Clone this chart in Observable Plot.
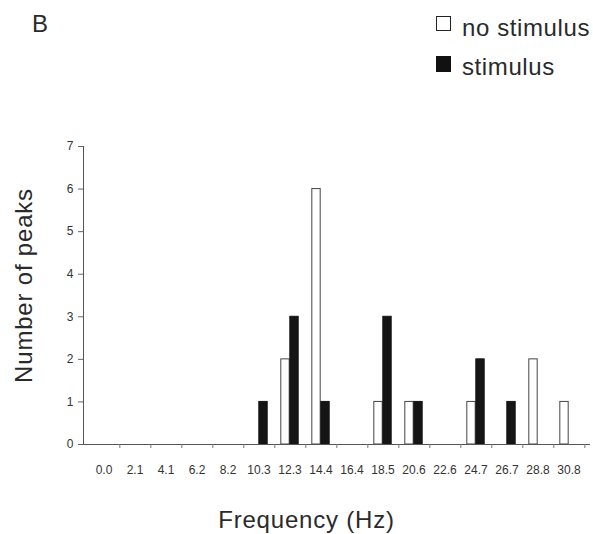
<!DOCTYPE html>
<html>
<head>
<meta charset="utf-8">
<script src="https://cdn.jsdelivr.net/npm/d3@7"></script>
<script src="https://cdn.jsdelivr.net/npm/@observablehq/plot@0.6"></script>
<style>
  html, body { margin: 0; padding: 0; background: #fff; }
  body { width: 593px; height: 534px; overflow: hidden; font-family: "Liberation Sans", Arial, sans-serif; color: #222; }
  #header { position: relative; height: 120px; width: 593px; }
  .big { position: absolute; font-size: 24px; letter-spacing: 0.6px; line-height: 1; white-space: nowrap; color: #2a2a2a; }
  .sw { position: absolute; width: 13px; height: 13px; box-sizing: content-box; }
</style>
</head>
<body>
<div id="header">
  <div class="big" style="left:32px; top:12px; letter-spacing:0;">B</div>
  <div class="sw" style="left:436px; top:16px; border:1.5px solid #222; background:#fff;"></div>
  <div class="big" style="left:462px; top:16px;">no stimulus</div>
  <div class="sw" style="left:436px; top:56px; border:1.5px solid #111; background:#111; height:14px;"></div>
  <div class="big" style="left:462px; top:55px;">stimulus</div>
</div>
<div id="chart"></div>
<script>
const categories = ["0.0","2.1","4.1","6.2","8.2","10.3","12.3","14.4","16.4","18.5","20.6","22.6","24.7","26.7","28.8","30.8"];
const noStimulus = [0,0,0,0,0,0,2,6,0,1,1,0,1,0,2,1];
const stimulus   = [0,0,0,0,0,1,3,1,0,3,1,0,2,1,0,0];
const yTicks = [0,1,2,3,4,5,6,7];

const rowsNo = categories.map((c, i) => ({cat: c, count: noStimulus[i]})).filter(d => d.count > 0);
const rowsSt = categories.map((c, i) => ({cat: c, count: stimulus[i]})).filter(d => d.count > 0);

const W = 593, H = 414, mL = 83, mR = 4, mT = 26, mB = 90;
const bw = (W - mL - mR) / categories.length;
const barW = 9;

const chart = Plot.plot({
  width: W,
  height: H,
  marginLeft: mL,
  marginRight: mR,
  marginTop: mT,
  marginBottom: mB,
  style: {fontFamily: '"Liberation Sans", Arial, sans-serif', background: "#fff", color: "#333"},
  x: {type: "band", domain: categories, padding: 0},
  y: {domain: [0, 7]},
  marks: [
    Plot.barY(rowsNo, {x: "cat", y: "count", fill: "#fff", stroke: "#444", strokeWidth: 1,
      insetLeft: bw / 2 - barW, insetRight: bw / 2}),
    Plot.barY(rowsSt, {x: "cat", y: "count", fill: "#151515", stroke: "#151515", strokeWidth: 1,
      insetLeft: bw / 2, insetRight: bw / 2 - barW}),
    Plot.frame({anchor: "left", stroke: "#555"}),
    Plot.frame({anchor: "bottom", stroke: "#555"}),
    Plot.axisY({ticks: yTicks, tickFormat: "d", tickSize: 5, tickPadding: 5, fontSize: 12, label: null, stroke: "#666", fill: "#333"}),
    Plot.axisX({ticks: categories, tickSize: 0, tickPadding: 21, fontSize: 12, label: null, fill: "#333"}),
    Plot.axisX({ticks: categories, tickSize: 4, text: null, label: null, dx: bw / 2, stroke: "#777"}),
    Plot.text(["Frequency (Hz)"], {frameAnchor: "bottom", textAnchor: "middle", lineAnchor: "bottom", dx: -30, dy: 83, fontSize: 24, fill: "#2a2a2a"}),
    Plot.text(["Number of peaks"], {frameAnchor: "left", textAnchor: "middle", lineAnchor: "middle", rotate: -90, dx: -59, dy: -10, fontSize: 24, fill: "#2a2a2a"})
  ]
});
document.getElementById("chart").appendChild(chart);
d3.select(chart).selectAll("text").filter(function() {
  const t = this.textContent; return t === "Frequency (Hz)" || t === "Number of peaks";
}).style("letter-spacing", "0.8px");
</script>
</body>
</html>
